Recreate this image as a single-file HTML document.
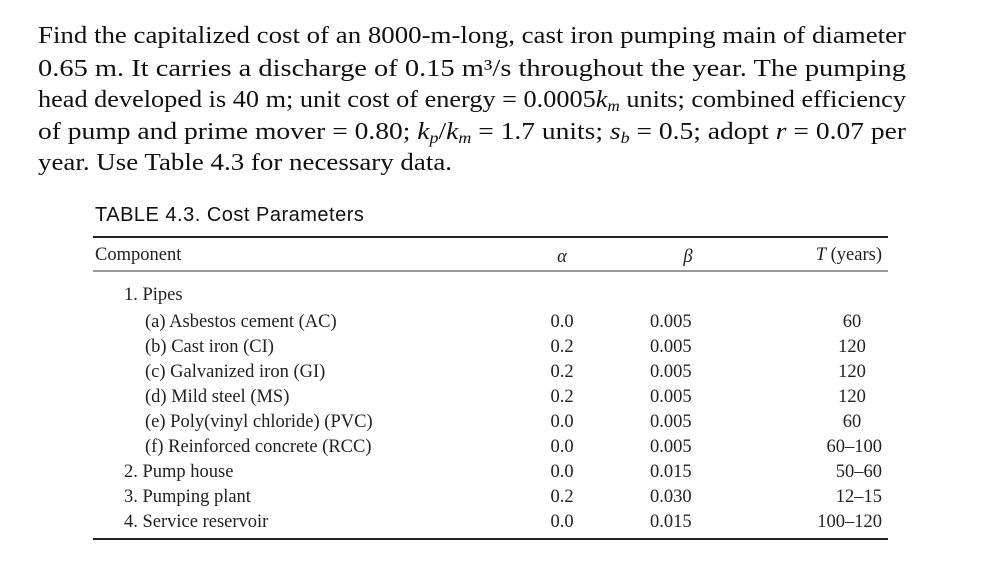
<!DOCTYPE html>
<html><head><meta charset="utf-8"><style>
html,body{margin:0;padding:0;background:#fff;}
svg{display:block;}
.p{font-family:"Liberation Serif",serif;font-size:24.5px;fill:#111;}
.t{font-family:"Liberation Serif",serif;font-size:18.5px;fill:#222;}
.h{font-family:"Liberation Sans",sans-serif;font-size:20px;fill:#111;letter-spacing:0.5px;}
</style></head><body>
<svg width="1002" height="561" viewBox="0 0 1002 561" xmlns="http://www.w3.org/2000/svg">
<g>
<text class="p" x="38" y="43" textLength="868" lengthAdjust="spacingAndGlyphs">Find the capitalized cost of an 8000-m-long, cast iron pumping main of diameter</text>
<text class="p" x="38" y="76" textLength="868" lengthAdjust="spacingAndGlyphs">0.65 m. It carries a discharge of 0.15 m³/s throughout the year. The pumping</text>
<text class="p" x="38" y="107" textLength="868" lengthAdjust="spacingAndGlyphs">head developed is 40 m; unit cost of energy = 0.0005<tspan font-style="italic">k<tspan font-size="16" dy="4">m</tspan></tspan><tspan dy="-4"> units; combined efficiency</tspan></text>
<text class="p" x="38" y="139" textLength="868" lengthAdjust="spacingAndGlyphs">of pump and prime mover = 0.80; <tspan font-style="italic">k<tspan font-size="16" dy="4">p</tspan></tspan><tspan dy="-4">/</tspan><tspan font-style="italic">k<tspan font-size="16" dy="4">m</tspan></tspan><tspan dy="-4"> = 1.7 units; </tspan><tspan font-style="italic">s<tspan font-size="16" dy="4">b</tspan></tspan><tspan dy="-4"> = 0.5; adopt </tspan><tspan font-style="italic">r</tspan> = 0.07 per</text>
<text class="p" x="38" y="170" textLength="414" lengthAdjust="spacingAndGlyphs">year. Use Table 4.3 for necessary data.</text>
</g>
<text class="h" x="95" y="221">TABLE 4.3. Cost Parameters</text>
<g>
<line x1="93" y1="237" x2="888" y2="237" stroke="#222" stroke-width="2"/>
<line x1="93" y1="271" x2="888" y2="271" stroke="#333" stroke-width="1"/>
<line x1="93" y1="539" x2="888" y2="539" stroke="#222" stroke-width="2"/>
<text class="t" x="95" y="260">Component</text>
<text class="t" x="562" y="262" text-anchor="middle" font-style="italic">α</text>
<text class="t" x="688" y="262" text-anchor="middle" font-style="italic">β</text>
<text class="t" x="882" y="260" text-anchor="end"><tspan font-style="italic">T</tspan> (years)</text>
<g id="rows"></g>
</g>
</svg>
<script>
const names=["1. Pipes","(a) Asbestos cement (AC)","(b) Cast iron (CI)","(c) Galvanized iron (GI)","(d) Mild steel (MS)","(e) Poly(vinyl chloride) (PVC)","(f) Reinforced concrete (RCC)","2. Pump house","3. Pumping plant","4. Service reservoir"];
const indent=[0,1,1,1,1,1,1,0,0,0];
const alphas=["","0.0","0.2","0.2","0.2","0.0","0.0","0.0","0.2","0.0"];
const betas=["","0.005","0.005","0.005","0.005","0.005","0.005","0.015","0.030","0.015"];
const years=["","60","120","120","120","60","60–100","50–60","12–15","100–120"];
const g=document.getElementById('rows');
const NS="http://www.w3.org/2000/svg";
function t(x,y,s,anchor){const e=document.createElementNS(NS,'text');e.setAttribute('class','t');e.setAttribute('x',x);e.setAttribute('y',y);if(anchor)e.setAttribute('text-anchor',anchor);e.textContent=s;g.appendChild(e);return e;}
names.forEach((n,i)=>{
 const y=i===0?300:(i<7?327+(i-1)*25:477+(i-7)*25);
 let e=t(indent[i]?145:124,y,n);
 
 
 if(alphas[i]){
  e=t(562,y,alphas[i],'middle');
  
  
  e=t(650,y,betas[i]);
  
  
  e=t(y<470&&years[i].length<4?852:882,y,years[i],y<470&&years[i].length<4?'middle':'end');
  
  
 }
});
</script>
</body></html>
